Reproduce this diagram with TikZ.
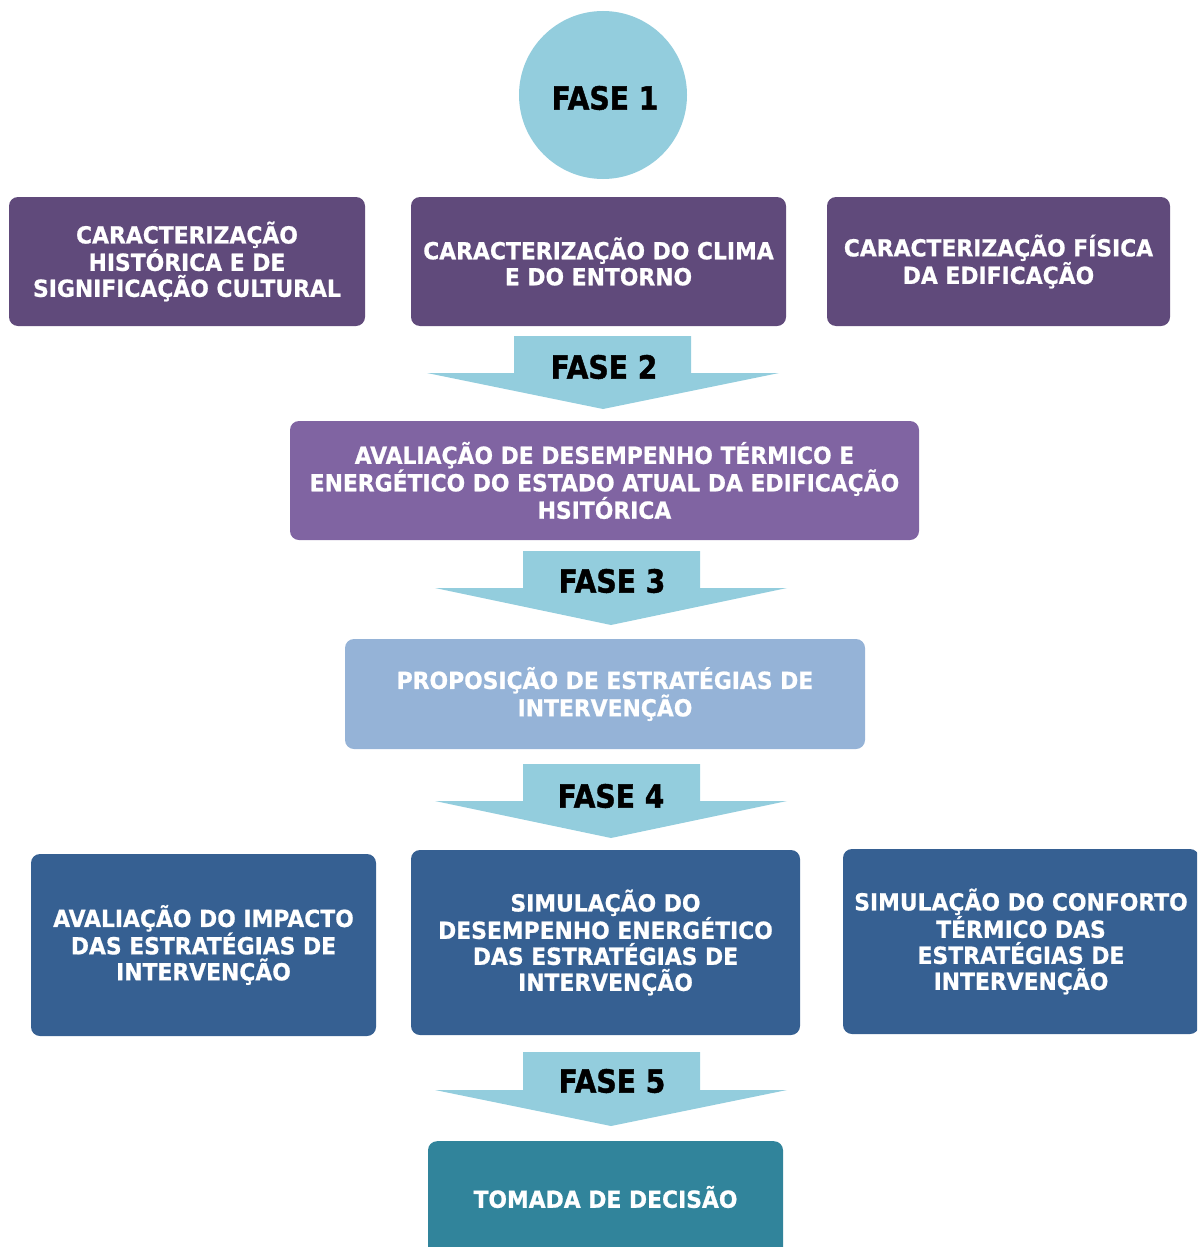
\documentclass[tikz,border=0pt]{standalone}
\usepackage{fontspec}
\setmainfont{DejaVu Sans}
\newfontfamily\boxfont[FakeStretch=0.93,FakeBold=0.8]{DejaVu Sans}
\newfontfamily\phasefont[FakeStretch=0.88,FakeBold=1.2]{DejaVu Sans}
\definecolor{phasecyan}{HTML}{93CDDD}
\definecolor{plumdark}{HTML}{604A7B}
\definecolor{plummid}{HTML}{8064A2}
\definecolor{skysoft}{HTML}{95B3D7}
\definecolor{navyblue}{HTML}{366092}
\definecolor{tealdeep}{HTML}{31849B}
\tikzset{
  box/.style={rounded corners=9pt, inner sep=0pt, text=white, align=center,
    font=\boxfont\bfseries\fontsize{23.5}{26}\selectfont},
  phase/.style={font=\phasefont\bfseries\fontsize{32}{34}\selectfont, text=black, inner sep=0pt},
  phasearrow/.style={fill=phasecyan, draw=none},
}
% block arrow: stem from x1 to x2, wings from w1 to w2, tip at x, stem top y0, wing line y1, tip y2
\newcommand{\phasearrowshape}[8]{%
  \fill[phasearrow] (#1,#6) -- (#2,#6) -- (#2,#7) -- (#4,#7) -- (#5,#8)
    -- (#3,#7) -- (#1,#7) -- cycle;}
\begin{document}
\begin{tikzpicture}[x=1pt,y=-1pt]
\useasboundingbox (0,0) rectangle (1197,1247);
\clip (0,0) rectangle (1197,1247);

% phase 1
\node[circle, fill=phasecyan, minimum size=168pt, inner sep=0pt] (c1) at (603,95) {};
\node[phase] (f1) at (605,98) {FASE 1};

% phase 1 boxes
\node[box, fill=plumdark, minimum width=356pt, minimum height=129pt] (hist) at (187,261.5)
  {CARACTERIZAÇÃO\\HISTÓRICA E DE\\SIGNIFICAÇÃO CULTURAL};
\node[box, fill=plumdark, minimum width=375pt, minimum height=129pt] (clima) at (598.5,261.5)
  {CARACTERIZAÇÃO DO CLIMA\\E DO ENTORNO};
\node[box, fill=plumdark, minimum width=343pt, minimum height=129pt] (fisica) at (998.5,261.5)
  {CARACTERIZAÇÃO FÍSICA\\DA EDIFICAÇÃO};

% phase 2
\phasearrowshape{514}{691}{427}{779}{603}{336}{373}{409}
\node[phase] (f2) at (604,367) {FASE 2};
\node[box, fill=plummid, minimum width=629pt, minimum height=119pt] (aval) at (604.5,480.5)
  {AVALIAÇÃO DE DESEMPENHO TÉRMICO E\\ENERGÉTICO DO ESTADO ATUAL DA EDIFICAÇÃO\\HSITÓRICA};

% phase 3
\phasearrowshape{523}{700}{435}{787}{611}{551}{588}{625}
\node[phase] (f3) at (612,581) {FASE 3};
\node[box, fill=skysoft, minimum width=520pt, minimum height=110pt] (prop) at (605,694)
  {PROPOSIÇÃO DE ESTRATÉGIAS DE\\INTERVENÇÃO};

% phase 4
\phasearrowshape{523}{700}{435}{787}{611}{764}{801}{838}
\node[phase] (f4) at (611,796) {FASE 4};
\node[box, fill=navyblue, minimum width=345pt, minimum height=182pt] (impacto) at (203.5,945)
  {AVALIAÇÃO DO IMPACTO\\DAS ESTRATÉGIAS DE\\INTERVENÇÃO};
\node[box, fill=navyblue, minimum width=389pt, minimum height=185pt] (energia) at (605.5,942.5)
  {SIMULAÇÃO DO\\DESEMPENHO ENERGÉTICO\\DAS ESTRATÉGIAS DE\\INTERVENÇÃO};
\node[box, fill=navyblue, minimum width=356pt, minimum height=185pt] (conforto) at (1021,941.5)
  {SIMULAÇÃO DO CONFORTO\\TÉRMICO DAS\\ESTRATÉGIAS DE\\INTERVENÇÃO};

% phase 5
\phasearrowshape{523}{700}{435}{787}{611}{1052}{1090}{1126}
\node[phase] (f5) at (612,1081) {FASE 5};
\node[box, fill=tealdeep, minimum width=355pt, minimum height=116pt, anchor=north] (decisao) at (605.5,1141) {};
\node[box, text=white] (decisaotxt) at (605.5,1197) {TOMADA DE DECISÃO};
\end{tikzpicture}
\end{document}
